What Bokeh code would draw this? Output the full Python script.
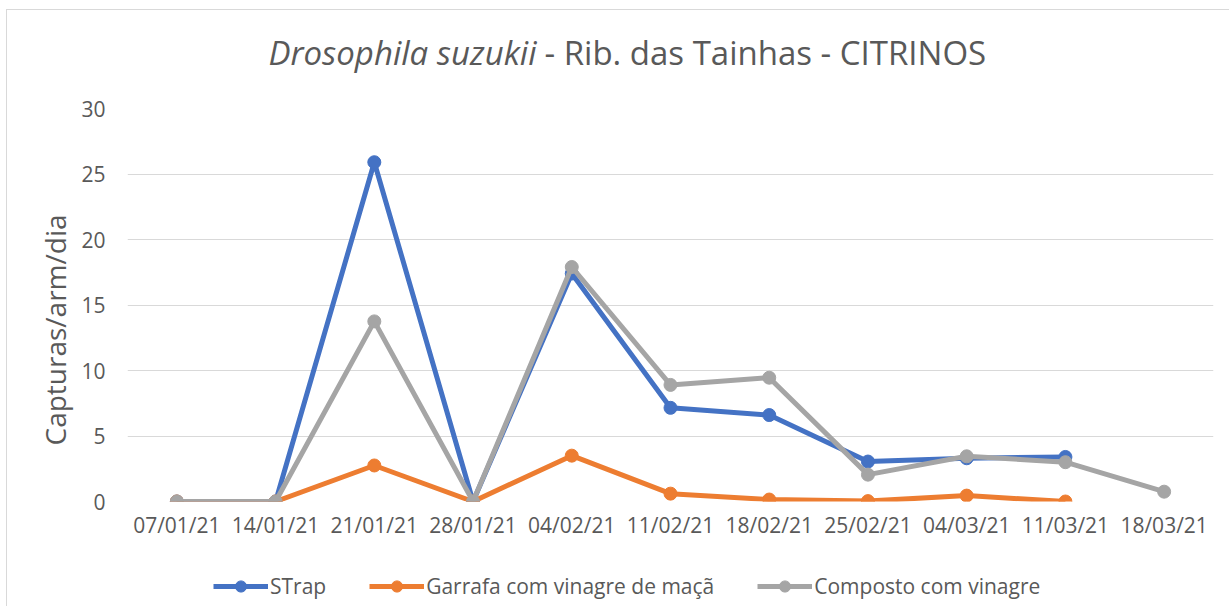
import numpy as np
from bokeh.plotting import figure
from bokeh.layouts import column
from bokeh.models import (FactorRange, Range1d, Legend, LegendItem, Title,
                          FixedTicker)
from bokeh.core.properties import value
from bokeh.embed import file_html
from bokeh.resources import INLINE

dates = ["07/01/21", "14/01/21", "21/01/21", "28/01/21", "04/02/21", "11/02/21",
         "18/02/21", "25/02/21", "04/03/21", "11/03/21", "18/03/21"]
nan = float("nan")
strap = [0, 0, 25.9, 0, 17.4, 7.15, 6.6, 3.05, 3.3, 3.4, nan]
garrafa = [0, 0, 2.75, 0, 3.5, 0.6, 0.15, 0.03, 0.45, 0.0, nan]
composto = [0, 0, 13.75, 0, 17.9, 8.9, 9.45, 2.05, 3.45, 3.0, 0.75]
y_ticks = [0, 5, 10, 15, 20, 25, 30]

series_names = ["STrap", "Garrafa com vinagre de maçã", "Composto com vinagre"]
colors = ["#4472C4", "#ED7D31", "#A5A5A5"]
title_italic = "Drosophila suzukii"
title_rest = "- Rib. das Tainhas - CITRINOS"
FONT = "Open Sans"
TXT = "#595959"

FW = 1086          # plot-area width shared by all three stacked figures
ML, MR = 120, 16   # side borders


def bare_fig(h):
    f = figure(frame_width=FW, height=h, x_range=Range1d(0, FW), y_range=Range1d(0, h),
               x_axis_type=None, y_axis_type=None,
               output_backend="svg", toolbar_location=None,
               min_border_left=ML, min_border_right=MR, min_border_top=0, min_border_bottom=0)
    f.outline_line_color = None
    f.xgrid.visible = False
    f.ygrid.visible = False
    return f


# ---- title figure (holds the mixed-style title) ----
tf = bare_fig(78)
tf.text(x=[409], y=[36], text=[title_italic], text_font=value(FONT),
        text_font_size="33px", text_font_style="italic", text_color=TXT,
        text_align="right", text_baseline="middle")
tf.text(x=[417], y=[36], text=[title_rest], text_font=value(FONT),
        text_font_size="33px", text_font_style="normal", text_color=TXT,
        text_align="left", text_baseline="middle")

# ---- main chart ----
p = figure(x_range=FactorRange(factors=dates, range_padding=0),
           y_range=Range1d(0, 30),
           frame_width=FW, frame_height=393,
           min_border_left=ML, min_border_right=MR, min_border_top=20, min_border_bottom=50,
           output_backend="svg", toolbar_location=None)
p.outline_line_color = None
p.xgrid.grid_line_color = None
p.ygrid.grid_line_color = "#d9d9d9"
p.ygrid.grid_line_width = 1
p.yaxis.ticker = FixedTicker(ticks=y_ticks)

for ax in (p.xaxis[0], p.yaxis[0]):
    ax.axis_line_color = None
    ax.major_tick_line_color = None
    ax.minor_tick_line_color = None
    ax.major_label_text_font = FONT
    ax.major_label_text_font_size = "21px"
    ax.major_label_text_color = TXT
p.xaxis.major_label_standoff = 3
p.yaxis.major_label_standoff = 16

ylab = Title(text="Capturas/arm/dia", align="left", offset=56,
             text_font=FONT, text_font_size="28px", text_font_style="normal",
             text_color=TXT, standoff=9)
p.add_layout(ylab, "left")

for name, vals, col in zip(series_names, [strap, garrafa, composto], colors):
    p.line(dates, vals, line_color=col, line_width=5, line_join="round")
    p.scatter(dates, vals, size=13, fill_color=col, line_color=col)

# ---- legend figure ----
lf = bare_fig(55)
items = []
for name, col in zip(series_names, colors):
    # legend proxies: a single undefined point, so nothing is drawn in the plot area
    ln = lf.line(x=[nan], y=[nan], line_color=col, line_width=5)
    sc = lf.scatter(x=[nan], y=[nan], size=13, fill_color=col, line_color=col)
    items.append(LegendItem(label=name, renderers=[ln, sc]))
legend = Legend(items=items, orientation="horizontal", location=(86, 6),
                label_text_font=FONT, label_text_font_size="21px", label_text_color=TXT,
                border_line_color=None, background_fill_alpha=0,
                glyph_width=55, glyph_height=28, label_height=28,
                label_standoff=2, spacing=43, padding=0, margin=0)
lf.add_layout(legend, "center")

lay = column(tf, p, lf, spacing=0,
             styles={"margin-left": "6px", "margin-top": "9px",
                     "border-left": "1px solid #d9d9d9", "border-top": "1px solid #d9d9d9"})

open("out.html", "w").write(file_html(lay, INLINE))
